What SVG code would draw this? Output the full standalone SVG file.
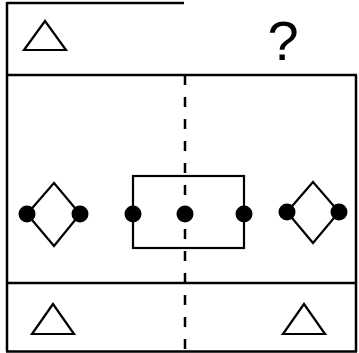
<svg xmlns="http://www.w3.org/2000/svg" width="359" height="353" viewBox="0 0 359 353">
<style>
.frame{fill:none;stroke:#000;stroke-width:2.5}
.shape{fill:none;stroke:#000;stroke-width:2.2;stroke-linejoin:miter}
.dot{fill:#000}
.dash{fill:none;stroke:#000;stroke-width:2.5;stroke-dasharray:10 12}
</style>
<rect width="359" height="353" fill="#fff"/>
<g id="frame">
<path class="frame" d="M7,3 H184 M7,2 V351 M6,351.5 H357 M356,75 V352 M6,75 H357 M6,283 H357"/>
</g>
<g id="connectors">
<line class="dash" x1="185" y1="75" x2="185" y2="352"/>
</g>
<g id="top-triangle"><polygon class="shape" points="45,21 24,50 66,50"/></g>
<g id="question"><text x="283" y="60" font-family="Liberation Sans, Arial, sans-serif" font-size="56" text-anchor="middle" fill="#000">?</text></g>
<g id="left-diamond">
<polygon class="shape" points="54,183 80,214 54,246 27,214"/>
<circle class="dot" cx="27" cy="214" r="8.5"/>
<circle class="dot" cx="80" cy="214" r="8.5"/>
</g>
<g id="rectangle">
<rect class="shape" x="133" y="176" width="111" height="72"/>
<circle class="dot" cx="133" cy="214" r="8.5"/>
<circle class="dot" cx="185" cy="214" r="8.5"/>
<circle class="dot" cx="244" cy="214" r="8.5"/>
</g>
<g id="right-diamond">
<polygon class="shape" points="313,182 339,212 313,243 287,212"/>
<circle class="dot" cx="287" cy="212" r="8.5"/>
<circle class="dot" cx="339" cy="212" r="8.5"/>
</g>
<g id="bottom-left-triangle"><polygon class="shape" points="53,304 32,334 74,334"/></g>
<g id="bottom-right-triangle"><polygon class="shape" points="304,304 283,334 325,334"/></g>
</svg>
